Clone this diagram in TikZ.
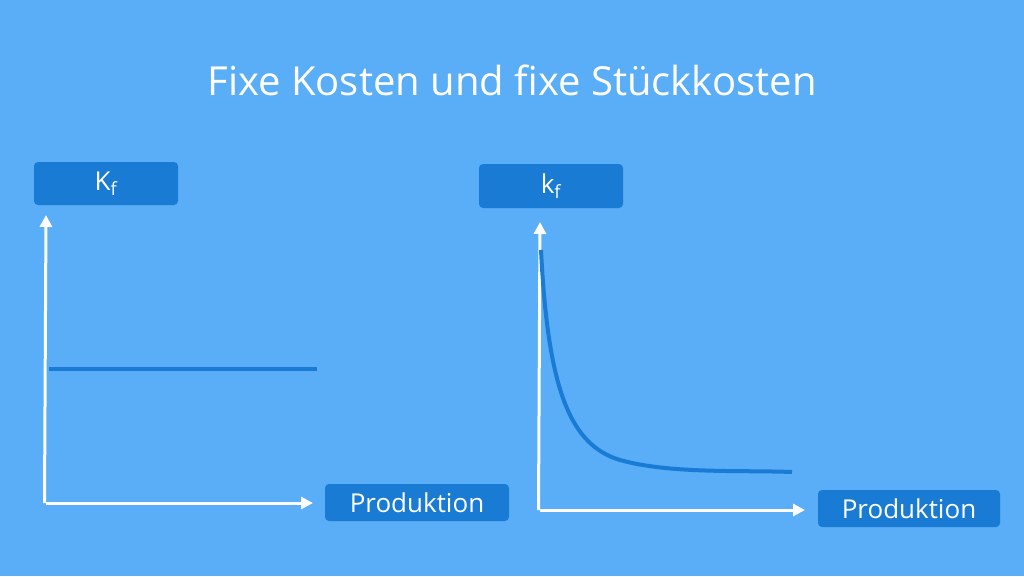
\documentclass[tikz,border=0pt]{standalone}
\usepackage{fontspec}
\setmainfont{Open Sans}
\usetikzlibrary{arrows.meta}
\definecolor{bg}{HTML}{5AADF7}
\definecolor{bx}{HTML}{1A7BD5}
\begin{document}
\begin{tikzpicture}[x=1pt,y=-1pt,
  lbl/.style={fill=bx,text=white,rounded corners=4pt,font=\fontsize{26}{30}\selectfont,inner sep=0pt},
  ax/.style={white,line width=3pt,-{Triangle[length=12pt,width=12pt]}},
  cv/.style={bx,line width=4pt}]
\fill[bg] (0,0) rectangle (1024,576);
\node[white,font=\fontsize{40}{48}\selectfont] (title) at (512,80) {Fixe Kosten und fixe Stückkosten};
\node[lbl,minimum width=144pt,minimum height=43pt] (K1) at (106,183.5) {K\textsubscript{f}};
\node[lbl,minimum width=144pt,minimum height=44pt] (K2) at (551,186) {k\textsubscript{f}};
\node[lbl,minimum width=184pt,minimum height=37pt] (P1) at (417,502.5) {Produktion};
\node[lbl,minimum width=182pt,minimum height=37pt] (P2) at (909,508.5) {Produktion};
\coordinate (o1) at (46,503);
\coordinate (o2) at (540,510);
\draw[ax] ([xshift=-1.5pt]o1) -- (46,215);
\draw[ax] (o1) -- (313,503);
\draw[ax] ([xshift=-1.5pt]o2) -- (540,222);
\draw[ax] (o2) -- (805,510);
\draw[cv] (49,369) -- (317,369);
\draw[cv] (541,250) .. controls (548,390) and (570,445) .. (620,460) .. controls (670,474) and (740,470) .. (792,472);
\end{tikzpicture}
\end{document}
